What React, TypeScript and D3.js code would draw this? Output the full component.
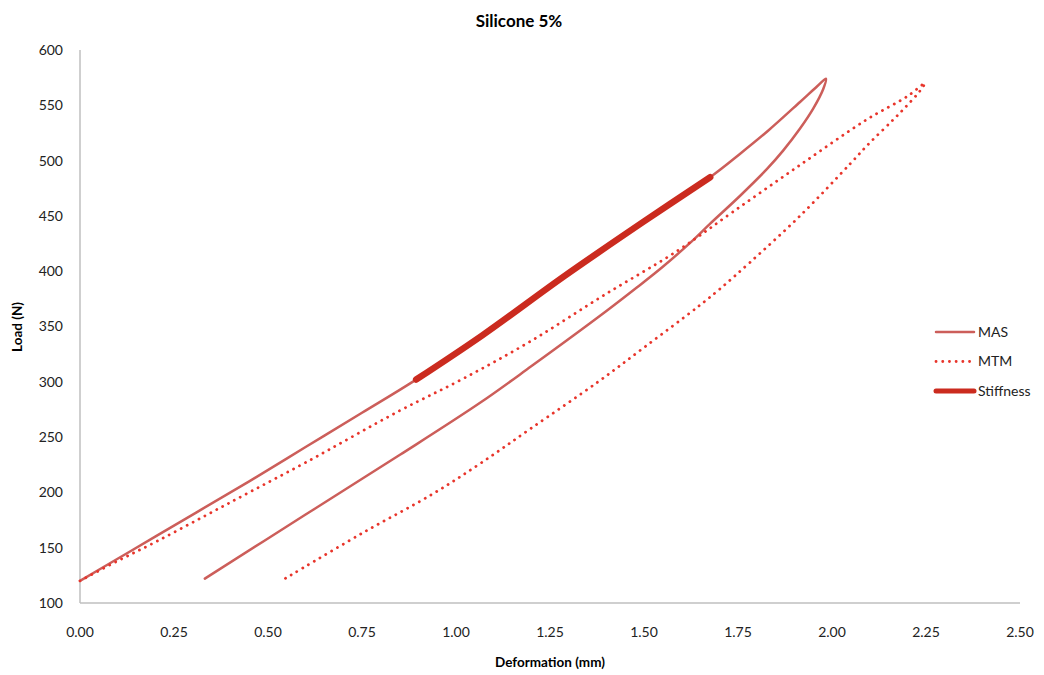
import { useEffect, useRef } from "react";
import * as d3 from "d3";

// deformation (mm), load (N)
const masLoading: [number, number][] = [
  [0.0, 120], [0.1, 140], [0.2, 160], [0.32, 184], [0.45, 210], [0.6, 241],
  [0.75, 272], [0.894, 302], [1.07, 342], [1.29, 396], [1.5, 445], [1.676, 485],
  [1.755, 506], [1.83, 527], [1.915, 553], [1.96, 567], [1.984, 574],
];
const masUnloading: [number, number][] = [
  [1.977, 565], [1.95, 547], [1.915, 529], [1.87, 509], [1.826, 492],
  [1.755, 468], [1.676, 443], [1.627, 427], [1.55, 404], [1.48, 385], [1.4, 364],
  [1.2, 314], [1.064, 281], [0.851, 234], [0.6, 180], [0.332, 122],
];
const mtmLoading: [number, number][] = [
  [0.0, 120], [0.1, 138], [0.2, 155], [0.328, 178], [0.45, 200], [0.6, 227],
  [0.851, 274], [1.02, 303], [1.2, 337], [1.392, 378], [1.587, 418], [1.738, 454],
  [1.915, 496], [2.092, 537], [2.2, 558], [2.247, 570],
];
const mtmUnloading: [number, number][] = [
  [2.234, 563], [2.2, 550], [2.163, 537], [2.1, 516], [2.048, 497], [1.915, 450],
  [1.782, 408], [1.702, 384], [1.644, 368], [1.5, 331], [1.378, 300], [1.2, 258],
  [1.064, 226], [0.94, 199], [0.75, 163], [0.545, 122],
];
const stiffness: [number, number][] = [
  [0.894, 302], [1.07, 342], [1.29, 396], [1.5, 445], [1.676, 485],
];

const xTicks = [0, 0.25, 0.5, 0.75, 1, 1.25, 1.5, 1.75, 2, 2.25, 2.5];
const yTicks = [100, 150, 200, 250, 300, 350, 400, 450, 500, 550, 600];

const series = [
  { name: "MAS", data: [...masLoading, ...masUnloading], color: "#cc5e5a", width: 2.5, dash: null },
  { name: "MTM", data: [...mtmLoading, ...mtmUnloading], color: "#e8352b", width: 2.8, dash: "0.1 6.6" },
  { name: "Stiffness", data: stiffness, color: "#cb2b1f", width: 6.5, dash: null },
];

const W = 1044;
const H = 675;
const font = "Lato, 'Open Sans', sans-serif";

const App = () => {
  const svgRef = useRef<SVGSVGElement>(null);

  useEffect(() => {
    const svg = d3.select(svgRef.current);
    svg.selectAll("*").remove();

    const x = d3.scaleLinear().domain([0, 2.5]).range([80, 1020]);
    const y = d3.scaleLinear().domain([100, 600]).range([603, 50]);

    // axes: plain grey lines, no tick marks
    svg.append("line")
      .attr("x1", x(0)).attr("x2", x(0))
      .attr("y1", y(600)).attr("y2", y(100))
      .attr("stroke", "#bfbfbf").attr("stroke-width", 1.5);
    svg.append("line")
      .attr("x1", x(0)).attr("x2", x(2.5))
      .attr("y1", y(100)).attr("y2", y(100))
      .attr("stroke", "#bfbfbf").attr("stroke-width", 1.5);

    svg.append("g")
      .selectAll("text")
      .data(yTicks)
      .enter()
      .append("text")
      .attr("x", 63)
      .attr("y", (d) => y(d))
      .attr("dy", "0.35em")
      .attr("text-anchor", "end")
      .attr("font-family", font)
      .attr("font-size", 14)
      .attr("fill", "#222")
      .text((d) => d);

    svg.append("g")
      .selectAll("text")
      .data(xTicks)
      .enter()
      .append("text")
      .attr("x", (d) => x(d))
      .attr("y", 632)
      .attr("dy", "0.35em")
      .attr("text-anchor", "middle")
      .attr("font-family", font)
      .attr("font-size", 14)
      .attr("fill", "#222")
      .text((d) => d.toFixed(2));

    const line = d3.line<[number, number]>()
      .x((d) => x(d[0]))
      .y((d) => y(d[1]))
      .curve(d3.curveCatmullRom.alpha(0.5));

    series.forEach((s) => {
      const p = svg.append("path")
        .attr("d", line(s.data))
        .attr("fill", "none")
        .attr("stroke", s.color)
        .attr("stroke-width", s.width)
        .attr("stroke-linecap", "round")
        .attr("stroke-linejoin", "round");
      if (s.dash) p.attr("stroke-dasharray", s.dash);
    });

    // legend
    const legend = svg.append("g").attr("transform", "translate(936,332)");
    series.forEach((s, i) => {
      const g = legend.append("g").attr("transform", `translate(0,${i * 29.5})`);
      const l = g.append("line")
        .attr("x1", 0).attr("x2", 38)
        .attr("stroke", s.color)
        .attr("stroke-width", Math.min(s.width, 5))
        .attr("stroke-linecap", "round");
      if (s.dash) l.attr("stroke-dasharray", s.dash);
      g.append("text")
        .attr("x", 42)
        .attr("dy", "0.35em")
        .attr("font-family", font)
        .attr("font-size", 14)
        .attr("fill", "#222")
        .text(s.name);
    });

    // titles
    svg.append("text")
      .attr("x", 519).attr("y", 27)
      .attr("text-anchor", "middle")
      .attr("font-family", font)
      .attr("font-weight", "bold")
      .attr("font-size", 17)
      .text("Silicone 5%");
    svg.append("text")
      .attr("x", 550).attr("y", 667)
      .attr("text-anchor", "middle")
      .attr("font-family", font)
      .attr("font-weight", "bold")
      .attr("font-size", 13.5)
      .text("Deformation (mm)");
    svg.append("text")
      .attr("transform", "translate(22,327) rotate(-90)")
      .attr("text-anchor", "middle")
      .attr("font-family", font)
      .attr("font-weight", "bold")
      .attr("font-size", 13.5)
      .text("Load (N)");
  }, []);

  return (
    <svg
      ref={svgRef}
      width={W}
      height={H}
      style={{ position: "absolute", left: 0, top: 0, background: "#fff" }}
    ></svg>
  );
};

export default App;
